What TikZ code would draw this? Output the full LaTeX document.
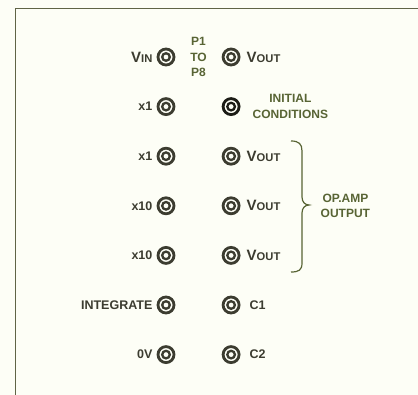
\documentclass[tikz,border=0pt]{standalone}
\usepackage{fontspec}
\setmainfont{Liberation Sans}
\usetikzlibrary{positioning}
\definecolor{ink}{RGB}{60,60,48}
\definecolor{inkdark}{RGB}{28,28,22}
\definecolor{olive}{RGB}{88,100,52}
\definecolor{rule}{RGB}{96,100,70}
\definecolor{paper}{RGB}{253,254,246}
\newcommand{\capV}[1]{{\fontsize{15}{14}\selectfont V}{\fontsize{11.2}{10}\selectfont #1}}

\begin{document}
\begin{tikzpicture}[x=1pt, y=-1pt,
  socket/.style={circle, draw=ink, fill=paper, line width=2.8pt, minimum size=16pt, inner sep=0pt,
                 path picture={\draw[ink, line width=2.3pt] (path picture bounding box.center) circle (3.8pt);}},
  lbl/.style={inner sep=1pt, text=ink, font=\bfseries\fontsize{12.5}{13}\selectfont},
  note/.style={inner sep=1pt, text=olive, align=center, font=\bfseries\fontsize{12}{15.5}\selectfont},
  frame/.style={draw=rule, line width=1.8pt},
  brace/.style={draw=olive, line width=1.2pt},
  node distance=30.8pt and 46.3pt
]
  \fill[paper] (0,0) rectangle (418,395);
  \useasboundingbox (0,0) rectangle (418,395);
  \draw[frame] (15.5,395) |- (418,8.5);

  \node[socket] (l1) at (166,57) {};
  \node[socket, below=of l1] (l2) {};
  \node[socket, below=of l2] (l3) {};
  \node[socket, below=of l3] (l4) {};
  \node[socket, below=of l4] (l5) {};
  \node[socket, below=of l5] (l6) {};
  \node[socket, below=of l6] (l7) {};
  \node[socket, right=of l1] (r1) {};
  \node[socket, right=of l2, draw=inkdark,
        path picture={\draw[inkdark, line width=2.3pt] (path picture bounding box.center) circle (3.8pt);}] (r2) {};
  \node[socket, right=of l3] (r3) {};
  \node[socket, right=of l4] (r4) {};
  \node[socket, right=of l5] (r5) {};
  \node[socket, right=of l6] (r6) {};
  \node[socket, right=of l7] (r7) {};

  \node[lbl, left=3pt of l1] (vin)  {\capV{IN}};
  \node[lbl, left=3pt of l2] (g1)   {x1};
  \node[lbl, left=3pt of l3] (g2)   {x1};
  \node[lbl, left=3pt of l4] (g3)   {x10};
  \node[lbl, left=3pt of l5] (g4)   {x10};
  \node[lbl, left=3pt of l6] (intg) {INTEGRATE};
  \node[lbl, left=3pt of l7] (zero) {0V};
  \node[lbl, right=5pt of r1] (o1)  {\capV{OUT}};
  \node[lbl, right=5pt of r3] (o2)  {\capV{OUT}};
  \node[lbl, right=5pt of r4] (o3)  {\capV{OUT}};
  \node[lbl, right=5pt of r5] (o4)  {\capV{OUT}};
  \node[lbl, right=8pt of r6] (c1)  {C1};
  \node[lbl, right=8pt of r7] (c2)  {C2};

  \path (l1) -- (r1) node[midway, note] (pp) {P1\\TO\\P8};
  \node[note, right=11pt of r2] (init) {INITIAL\\CONDITIONS};
  \node[note, font=\bfseries\fontsize{12}{14.5}\selectfont, right=38pt of o3] (opamp) {OP.AMP\\OUTPUT};

  \draw[brace] (291,141) .. controls (299,141) and (302,144) .. (302,151) -- (302,197)
               .. controls (302,202) and (305,205) .. (309,205)
               .. controls (305,205) and (302,208) .. (302,213) -- (302,263)
               .. controls (302,270) and (299,272) .. (291,272);
\end{tikzpicture}
\end{document}
